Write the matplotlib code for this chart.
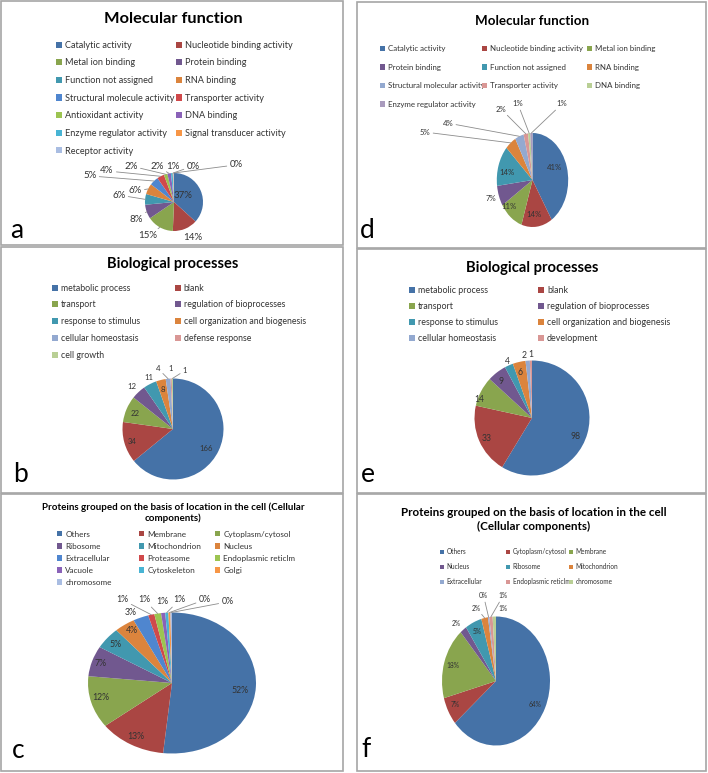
import matplotlib.pyplot as plt
from matplotlib.patches import Rectangle
import numpy as np

plt.rcParams['font.family'] = ['Lato', 'DejaVu Sans']

W, H = 708, 773

# ---- data ----
# a: molecular function (percent)
mf1_names = ["Catalytic activity", "Nucleotide binding activity", "Metal ion binding",
             "Protein binding", "Function not assigned", "RNA binding",
             "Structural molecule activity", "Transporter activity", "Antioxidant activity",
             "DNA binding", "Enzyme regulator activity", "Signal transducer activity",
             "Receptor activity"]
mf1_values = [37, 14, 15, 8, 6, 6, 5, 4, 2, 2, 1, 0.4, 0.3]

# d: molecular function (percent)
mf2_names = ["Catalytic activity", "Nucleotide binding activity", "Metal ion binding",
             "Protein binding", "Function not assigned", "RNA binding",
             "Structural molecular activity", "Transporter activity", "DNA binding",
             "Enzyme regulator activity"]
mf2_values = [41, 14, 11, 7, 14, 5, 4, 2, 1, 1]

# b: biological processes (counts)
bp1_names = ["metabolic process", "blank", "transport", "regulation of bioprocesses",
             "response to stimulus", "cell organization and biogenesis",
             "cellular homeostasis", "defense response", "cell growth"]
bp1_values = [166, 34, 22, 12, 11, 8, 4, 1, 1]

# e: biological processes (counts)
bp2_names = ["metabolic process", "blank", "transport", "regulation of bioprocesses",
             "response to stimulus", "cell organization and biogenesis",
             "cellular homeostasis", "development"]
bp2_values = [98, 33, 14, 9, 4, 6, 2, 1]

# c: cellular components (percent)
cc1_names = ["Others", "Membrane", "Cytoplasm/cytosol", "Ribosome", "Mitochondrion",
             "Nucleus", "Extracellular", "Proteasome", "Endoplasmic reticlm", "Vacuole",
             "Cytoskeleton", "Golgi", "chromosome"]
cc1_values = [52, 13, 12, 7, 5, 4, 3, 1.2, 1.3, 0.8, 0.6, 0.4, 0.3]

# f: cellular components (percent)
cc2_names = ["Others", "Cytoplasm/cytosol", "Membrane", "Nucleus", "Ribosome",
             "Mitochondrion", "Extracellular", "Endoplasmic reticlm", "chromosome"]
cc2_values = [64, 7, 18, 2, 5, 2, 0.4, 1, 1]

base = ['#4572a7', '#aa4643', '#89a54e', '#71588f', '#4198af', '#db843d']
bright = ['#4f86cf', '#d0494b', '#9cc451', '#8a62b8', '#48b4d4', '#f79646', '#a9bde2']
light = ['#93a9d0', '#d99795', '#b9cf95', '#a99bbd']

TXT = '#333333'

fig = plt.figure(figsize=(W / 100, H / 100), dpi=100)


def fy(y):
    return 1 - y / H


def panel(box, center, radii, values, colors):
    x0, y0, x1, y1 = box
    cx, cy = center
    rx, ry = radii
    fig.add_artist(Rectangle((x0 / W, fy(y1)), (x1 - x0) / W, (y1 - y0) / H,
                             transform=fig.transFigure, fill=False,
                             edgecolor='#a6a6a6', lw=1.2))
    ax = fig.add_axes([x0 / W, fy(y1), (x1 - x0) / W, (y1 - y0) / H])
    wedges, _ = ax.pie(values, colors=colors, startangle=90, counterclock=False,
                       wedgeprops=dict(linewidth=0))
    ax.set_aspect('auto')
    ax.set_xlim((x0 - cx) / rx, (x1 - cx) / rx)
    ax.set_ylim((cy - y1) / ry, (cy - y0) / ry)
    ax.axis('off')
    return ax, wedges


def add_labels(ax, wedges, texts, pos, radii, fs):
    rx, ry = radii
    for w, t, (lx, ly) in zip(wedges, texts, pos):
        ang = np.deg2rad((w.theta1 + w.theta2) / 2)
        ex, ey = np.cos(ang), np.sin(ang)
        dist = np.hypot((lx - ex) * rx, (ly - ey) * ry)
        if np.hypot(lx, ly) > 1 and dist > 12:
            ax.annotate(t, (ex, ey), xytext=(lx, ly), ha='center', va='center',
                        fontsize=fs, color=TXT,
                        arrowprops=dict(arrowstyle='-', color='#8c8c8c', lw=0.6,
                                        shrinkA=0, shrinkB=0))
        else:
            ax.text(lx, ly, t, ha='center', va='center', fontsize=fs, color=TXT)


def add_legend(wedges, names, cols, y0, rowp, fs):
    fs_px = fs * 100 / 72
    n = len(cols)
    for j, x in enumerate(cols):
        fig.legend(wedges[j::n], names[j::n], loc='upper left',
                   bbox_to_anchor=(x / W, fy(y0 - 0.45 * fs_px)),
                   fontsize=fs, frameon=False, borderpad=0, borderaxespad=0,
                   handlelength=0.65, handleheight=0.65, handletextpad=0.35,
                   labelspacing=(rowp - 0.98 * fs_px) / fs_px, labelcolor=TXT)


def pct(values):
    return [f"{v:.0f}%" for v in values]


# ---- a ----
ax, w = panel((1, 1, 343, 245), (174, 202), (29, 29), mf1_values, base + bright)
add_labels(ax, w, pct(mf1_values),
           [(0.31, 0.24), (0.66, -1.21), (-0.90, -1.17), (-1.31, -0.59), (-1.9, 0.24),
            (-1.34, 0.38), (-2.90, 0.90), (-2.31, 1.07), (-1.48, 1.24), (-0.59, 1.24),
            (-0.03, 1.24), (0.66, 1.24), (2.14, 1.28)], (29, 29), 7)
add_legend(w, mf1_names, [56, 176], 45, 17.6, 6.6)
fig.text(173 / W, fy(19), "Molecular function", ha='center', va='center',
         fontsize=11.8, fontweight='bold')
fig.text(10 / W, fy(238), "a", fontsize=19, va='baseline')

# ---- d ----
ax, w = panel((357, 2, 706, 248), (532.5, 180), (35.7, 47), mf2_values, base + light)
add_labels(ax, w, pct(mf2_values),
           [(0.63, 0.26), (0.04, -0.74), (-0.66, -0.57), (-1.16, -0.40), (-0.71, 0.15),
            (-3.01, 1.02), (-2.37, 1.21), (-0.88, 1.51), (-0.41, 1.62), (0.83, 1.62)],
           (35.7, 47), 5.6)
add_legend(w, mf2_names, [380, 482, 587], 49, 19.2, 5.7)
fig.text(532 / W, fy(21), "Molecular function", ha='center', va='center',
         fontsize=9.6, fontweight='bold')
fig.text(360 / W, fy(238), "d", fontsize=19, va='baseline')

# ---- b ----
ax, w = panel((1, 247, 343, 493), (173, 429), (50.5, 50.5), bp1_values, base + light[:3])
add_labels(ax, w, [str(v) for v in bp1_values],
           [(0.65, -0.38), (-0.80, -0.25), (-0.75, 0.30), (-0.82, 0.85), (-0.48, 1.01),
            (-0.21, 0.78), (-0.30, 1.20), (-0.05, 1.19), (0.24, 1.16)], (50.5, 50.5), 5.6)
add_legend(w, bp1_names, [52, 175], 287.7, 16.3, 6.3)
fig.text(173 / W, fy(264), "Biological processes", ha='center', va='center',
         fontsize=10.5, fontweight='bold')
fig.text(13 / W, fy(482), "b", fontsize=19, va='baseline')

# ---- e ----
ax, w = panel((357, 249, 706, 493), (532, 418), (57.5, 57.5), bp2_values, base + light[:2])
add_labels(ax, w, [str(v) for v in bp2_values],
           [(0.76, -0.32), (-0.79, -0.36), (-0.91, 0.33), (-0.53, 0.64), (-0.43, 0.98),
            (-0.20, 0.79), (-0.14, 1.09), (-0.02, 1.10)], (57.5, 57.5), 6.2)
add_legend(w, bp2_names, [409, 538], 290, 15.8, 6.4)
fig.text(532 / W, fy(268), "Biological processes", ha='center', va='center',
         fontsize=10.6, fontweight='bold')
fig.text(361 / W, fy(482), "e", fontsize=19, va='baseline')

# ---- c ----
ax, w = panel((1, 494, 343, 771), (172, 683), (84, 70.5), cc1_values, base + bright)
add_labels(ax, w, pct(cc1_values),
           [(0.81, -0.11), (-0.43, -0.76), (-0.85, -0.20), (-0.85, 0.27), (-0.67, 0.55),
            (-0.48, 0.74), (-0.49, 1.00), (-0.59, 1.18), (-0.33, 1.18), (-0.12, 1.16),
            (0.09, 1.18), (0.39, 1.18), (0.66, 1.15)], (84, 70.5), 6.3)
add_legend(w, cc1_names, [57, 139, 215], 534.3, 13.1, 5.9)
fig.text(173 / W, fy(512.5),
         "Proteins grouped on the basis of location in the cell (Cellular\ncomponents)",
         ha='center', va='center', fontsize=7.0, fontweight='bold', linespacing=1.15)
fig.text(12 / W, fy(758), "c", fontsize=19, va='baseline')

# ---- f ----
ax, w = panel((357, 494, 706, 771), (496, 681), (54, 64.5), cc2_values, base + light[:3])
add_labels(ax, w, pct(cc2_values),
           [(0.72, -0.36), (-0.76, -0.37), (-0.80, 0.24), (-0.73, 0.89), (-0.34, 0.77),
            (-0.36, 1.13), (-0.23, 1.32), (0.13, 1.32), (0.13, 1.12)], (54, 64.5), 4.8)
add_legend(w, cc2_names, [440, 506, 569], 551, 14.5, 4.7)
fig.text(534 / W, fy(519.5),
         "Proteins grouped on the basis of location in the cell\n(Cellular components)",
         ha='center', va='center', fontsize=8.4, fontweight='bold', linespacing=1.4)
fig.text(361 / W, fy(757), "f", fontsize=19, va='baseline')

fig.savefig("out.png", dpi=100)
